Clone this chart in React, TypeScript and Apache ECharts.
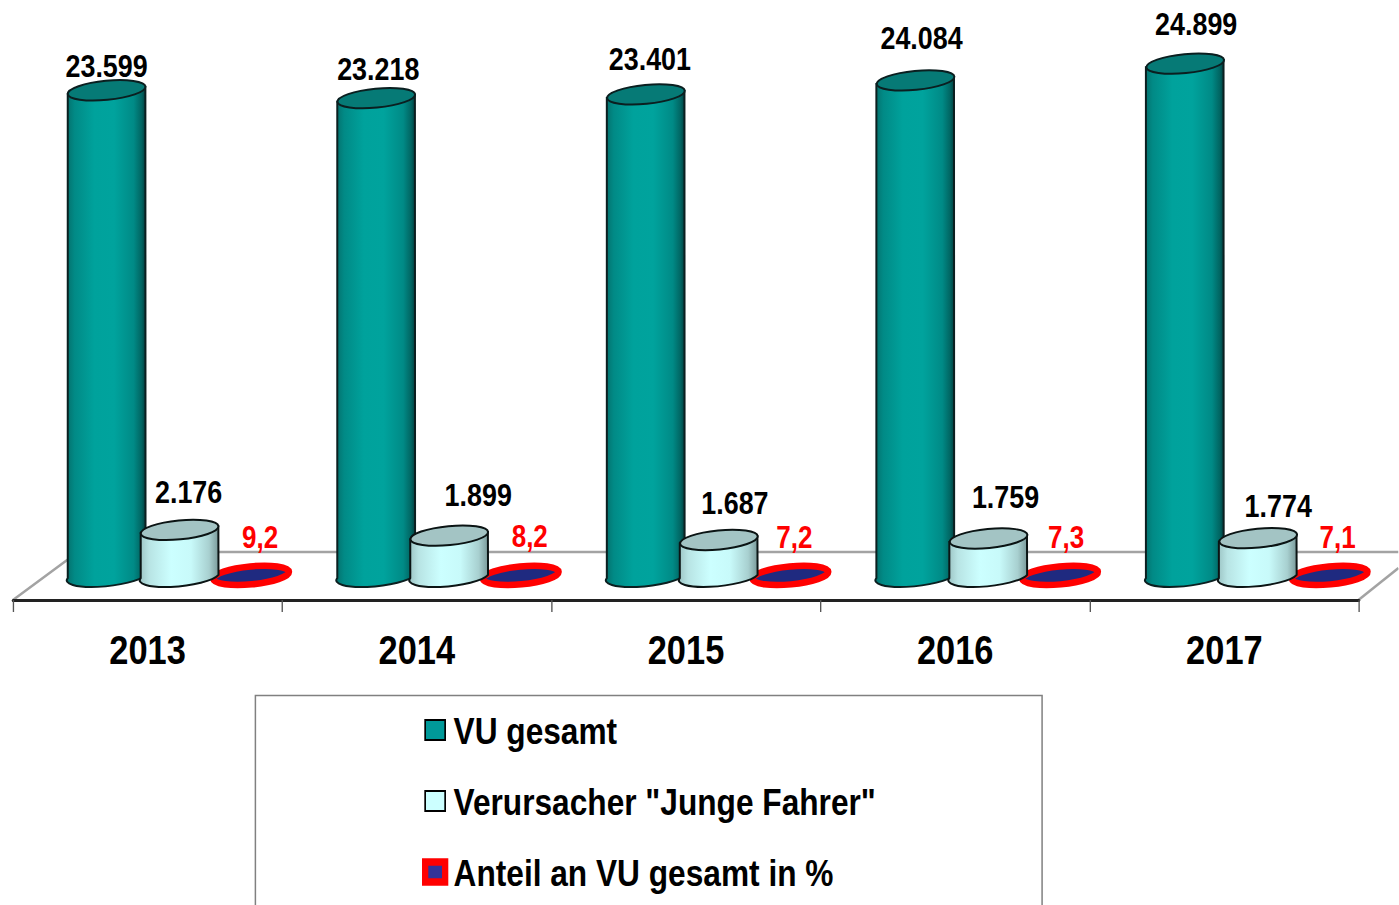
import React, { useEffect, useRef } from "react";
import * as echarts from "echarts";

const years = ["2013", "2014", "2015", "2016", "2017"];
const vuGesamt = [23599, 23218, 23401, 24084, 24899];
const jungeFahrer = [2176, 1899, 1687, 1759, 1774];
const anteil = [9.2, 8.2, 7.2, 7.3, 7.1];
const vuLabels = ["23.599", "23.218", "23.401", "24.084", "24.899"];
const jungeLabels = ["2.176", "1.899", "1.687", "1.759", "1.774"];
const anteilLabels = ["9,2", "8,2", "7,2", "7,3", "7,1"];
const seriesNames = ["VU gesamt", 'Verursacher "Junge Fahrer"', "Anteil an VU gesamt in %"];

// hand-placed label nudges (dx from cylinder centre, dy from top-ellipse centre), in screen px
const vuNudge = [[0, -25], [2, -29], [4, -36], [6, -43], [11, -40]];
const jungeNudge = [[9, -38], [29, -41], [16, -37], [17, -42], [20, -33]];
const anteilNudge = [[9, -37], [9, -38], [4, -37], [6, -37], [8, -37]];

const FONT = '"Liberation Sans", Arial, sans-serif';
// The reference's type is a horizontally condensed bold sans. The whole chart is drawn wider and
// squeezed with a CSS transform, so that axis labels and legend stay native; shapes are drawn
// in a group that cancels the squeeze, so their geometry is in screen px.
const K = 0.84;
const TILT = (-5.5 * Math.PI) / 180;

function lg(stops: [number, string][]) {
  return new echarts.graphic.LinearGradient(
    0, 0, 1, 0,
    stops.map(([offset, color]) => ({ offset, color }))
  );
}

function cylinderItem(opts: {
  dx: number;
  rx: number;
  ry: number;
  body: any;
  top: any;
  stroke: string;
  strokeWidth: number;
  labels: string[];
  nudges: number[][];
  labelColor: string;
  fontSize: number;
  flat?: boolean;
}) {
  return (params: any, api: any) => {
    const i = api.value(0);
    const p = api.coord([i, api.value(1)]);
    const b = api.coord([i, 0]);
    const cx = p[0] * K + opts.dx + i * 0.45;
    const { rx, ry } = opts;
    const hw = Math.sqrt(rx * rx * Math.cos(TILT) ** 2 + ry * ry * Math.sin(TILT) ** 2);
    const d = ((rx * rx - ry * ry) * Math.sin(-TILT) * Math.cos(TILT)) / hw;
    const deg = (TILT * 180) / Math.PI;
    const yTop = p[1];
    const yBase = b[1];
    const shapes: any[] = [];
    if (!opts.flat) {
      const pathData =
        `M${cx - hw} ${yTop + d}L${cx - hw} ${yBase + d}` +
        `A${rx} ${ry} ${deg} 0 0 ${cx + hw} ${yBase - d}` +
        `L${cx + hw} ${yTop - d}Z`;
      shapes.push({
        type: "path",
        shape: { pathData },
        style: { fill: opts.body, stroke: opts.stroke, lineWidth: opts.strokeWidth },
      });
    }
    shapes.push({
      type: "ellipse",
      shape: { cx: 0, cy: 0, rx, ry },
      x: cx,
      y: yTop + (opts.flat ? 1 : 0),
      rotation: -TILT,
      style: { fill: opts.top, stroke: opts.stroke, lineWidth: opts.strokeWidth },
    });
    const [nx, ny] = opts.nudges[i];
    return {
      type: "group",
      children: [
        { type: "group", scaleX: 1 / K, children: shapes },
        {
          type: "text",
          x: (cx + nx) / K,
          y: yTop + ny,
          style: {
            text: opts.labels[i],
            fill: opts.labelColor,
            font: `bold ${opts.fontSize}px ${FONT}`,
            align: "center",
            verticalAlign: "middle",
          },
        },
      ],
    };
  };
}

export default function App() {
  const ref = useRef<HTMLDivElement>(null);
  useEffect(() => {
    const chart = echarts.init(ref.current!, null, { renderer: "svg" });
    const tealBody = lg([
      [0, "#04706c"], [0.1, "#018a86"], [0.35, "#00a29c"], [0.6, "#00a39d"], [0.85, "#008a86"], [0.95, "#016562"], [1, "#023f40"],
    ]);
    const paleBody = lg([
      [0, "#9cc4c4"], [0.12, "#b8e4e4"], [0.4, "#ccffff"], [0.65, "#c8fafa"], [0.88, "#a8d0d0"], [1, "#7a9a9a"],
    ]);
    chart.setOption({
      animation: false,
      backgroundColor: "#fff",
      grid: { left: 13 / K, top: 0, width: 1346 / K, height: 600 },
      xAxis: {
        type: "category",
        data: years,
        boundaryGap: true,
        axisLine: { show: true, onZero: false, lineStyle: { color: "#222", width: 3 } },
        axisTick: { show: true, length: 12, lineStyle: { color: "#555", width: 1.6 } },
        axisLabel: { margin: 29, color: "#000", fontFamily: FONT, fontWeight: "bold", fontSize: 41 },
      },
      yAxis: { type: "value", min: -1240, max: 28000, show: false, splitLine: { show: false } },
      graphic: [
        {
          type: "group",
          scaleX: 1 / K,
          z: 0,
          children: [
            {
              type: "polyline",
              shape: { points: [[13, 600], [78, 552], [1399, 552]] },
              style: { stroke: "#a3a3a3", lineWidth: 2.5, fill: "none" },
            },
            {
              type: "line",
              shape: { x1: 1359, y1: 600, x2: 1399, y2: 568 },
              style: { stroke: "#a3a3a3", lineWidth: 2.5 },
            },
            {
              type: "rect",
              shape: { x: 255.5, y: 695.5, width: 787, height: 300 },
              style: { fill: "#fff", stroke: "#808080", lineWidth: 1.5 },
            },
          ],
        },
      ],
      legend: {
        orient: "vertical",
        left: 422 / K,
        top: 710,
        padding: 0,
        itemWidth: 20 / K,
        itemHeight: 20,
        itemGap: 31,
        selectedMode: false,
        textStyle: {
          color: "#000",
          fontFamily: FONT,
          fontWeight: "bold",
          fontSize: 37.7,
          lineHeight: 40,
          padding: [0, 0, 0, 5],
        },
        data: [
          { name: seriesNames[0], icon: "rect", itemStyle: { color: "#009999", borderColor: "#000", borderWidth: 2 } },
          { name: seriesNames[1], icon: "rect", itemStyle: { color: "#ccffff", borderColor: "#000", borderWidth: 2 } },
          { name: seriesNames[2], icon: "rect", itemStyle: { color: "#333399", borderColor: "#ff0000", borderWidth: 7.5 } },
        ],
      },
      series: [
        {
          type: "custom",
          name: seriesNames[2],
          z: 3,
          clip: false,
          encode: { x: 0, y: 1 },
          data: anteil.map((v, i) => [i, v]),
          renderItem: cylinderItem({
            dx: 103.5, rx: 38, ry: 9, body: "#1f2a80", top: "#1f2a80", stroke: "#ff0000", strokeWidth: 6.5,
            labels: anteilLabels, nudges: anteilNudge, labelColor: "#ff0000", fontSize: 31, flat: true,
          }),
        },
        {
          type: "custom",
          name: seriesNames[1],
          z: 4,
          clip: false,
          encode: { x: 0, y: 1 },
          data: jungeFahrer.map((v, i) => [i, v]),
          renderItem: cylinderItem({
            dx: 32, rx: 39, ry: 9.5, body: paleBody, top: "#a3c4c4", stroke: "#0b1414", strokeWidth: 2,
            labels: jungeLabels, nudges: jungeNudge, labelColor: "#000", fontSize: 32,
          }),
        },
        {
          type: "custom",
          name: seriesNames[0],
          z: 3,
          clip: false,
          encode: { x: 0, y: 1 },
          data: vuGesamt.map((v, i) => [i, v]),
          renderItem: cylinderItem({
            dx: -41, rx: 39, ry: 9.5, body: tealBody, top: "#067a76", stroke: "#0b1f20", strokeWidth: 2,
            labels: vuLabels, nudges: vuNudge, labelColor: "#000", fontSize: 32,
          }),
        },
      ],
    });
    return () => chart.dispose();
  }, []);
  return (
    <div
      ref={ref}
      style={{
        position: "fixed",
        left: 0,
        top: 0,
        width: 1399 / K,
        height: 905,
        background: "#fff",
        transform: `scaleX(${K})`,
        transformOrigin: "0 0",
      }}
    />
  );
}
